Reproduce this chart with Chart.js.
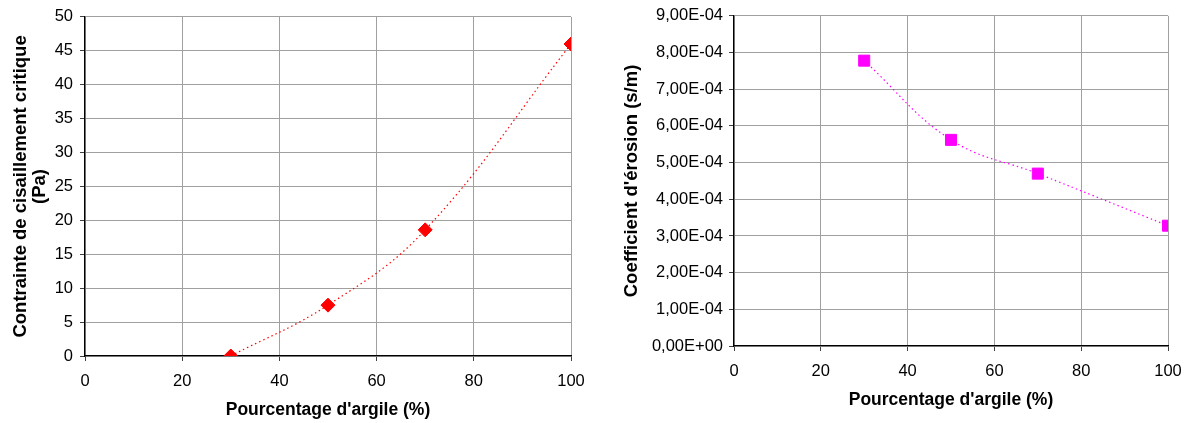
<!DOCTYPE html>
<html>
<head>
<meta charset="utf-8">
<script src="https://cdn.jsdelivr.net/npm/chart.js@4.4.0/dist/chart.umd.min.js"></script>
<style>
  body { margin: 0; background: #fff; }
  canvas { position: absolute; top: 0; }
  #shearChart { left: 0; }
  #erosionChart { left: 600px; }
</style>
</head>
<body>
<canvas id="shearChart" width="600" height="423"></canvas>
<canvas id="erosionChart" width="589" height="423"></canvas>
<script>
// Data
const clayPercent = [30, 50, 70, 100];
const criticalShear = [0, 7.5, 18.6, 46];
const erosionCoef = [7.78e-4, 5.62e-4, 4.70e-4, 3.28e-4];
const xTicks = [0, 20, 40, 60, 80, 100];
const shearTicks = [0, 5, 10, 15, 20, 25, 30, 35, 40, 45, 50];
const erosionTicks = [0, 1e-4, 2e-4, 3e-4, 4e-4, 5e-4, 6e-4, 7e-4, 8e-4, 9e-4];

const FONT = 'Arial, "Liberation Sans", sans-serif';
const GRID = '#a0a0a0';

// "7,00E-04" style labels
function excelSci(v) {
    const parts = v.toExponential(2).split('e');
    const e = parseInt(parts[1], 10);
    return parts[0].replace('.', ',') + 'E' + (e < 0 ? '-' : '+') + String(Math.abs(e)).padStart(2, '0');
}

function points(xs, ys) {
    return xs.map((x, i) => ({ x: x, y: ys[i] }));
}

function makeChart(canvasId, opts) {
    const ctx = document.getElementById(canvasId).getContext('2d');
    return new Chart(ctx, {
        type: 'scatter',
        data: {
            datasets: [{
                data: points(clayPercent, opts.values),
                showLine: true,
                tension: 0.4,
                borderColor: opts.color,
                borderWidth: 1.2,
                borderDash: [1.5, 3],
                pointStyle: opts.pointStyle,
                pointRadius: opts.pointRadius,
                pointBackgroundColor: opts.color,
                pointBorderColor: opts.color,
                pointBorderWidth: 1
            }]
        },
        options: {
            responsive: false,
            animation: false,
            layout: { padding: { top: opts.top, right: opts.right, left: 0, bottom: 0 } },
            plugins: { legend: { display: false }, tooltip: { enabled: false } },
            scales: {
                x: {
                    type: 'linear',
                    min: 0,
                    max: 100,
                    afterBuildTicks: axis => { axis.ticks = xTicks.map(v => ({ value: v })); },
                    afterFit: axis => {
                        axis.height = opts.xAxisHeight;
                        // keep the plot edge where the layout padding puts it
                        axis.paddingLeft = 0;
                        axis.paddingRight = 0;
                    },
                    grid: { color: GRID, lineWidth: 1, tickLength: 5, tickColor: '#404040' },
                    border: { color: '#000', width: 1.3 },
                    ticks: { color: '#000', font: { family: FONT, size: 16.5 }, padding: 11, maxRotation: 0 },
                    title: {
                        display: true,
                        text: "Pourcentage d'argile (%)",
                        color: '#000',
                        font: { family: FONT, size: 17.5, weight: 'bold' },
                        padding: { top: 0, bottom: opts.xTitlePad }
                    }
                },
                y: {
                    type: 'linear',
                    min: 0,
                    max: opts.yMax,
                    afterBuildTicks: axis => { axis.ticks = opts.yTicks.map(v => ({ value: v })); },
                    afterFit: axis => { axis.width = opts.yAxisWidth; },
                    grid: { color: GRID, lineWidth: 1, tickLength: 5, tickColor: '#404040' },
                    border: { color: '#000', width: 1.3 },
                    ticks: {
                        color: '#000',
                        font: { family: FONT, size: 16.5 },
                        padding: opts.yTickPad,
                        callback: opts.yFormat
                    },
                    title: {
                        display: true,
                        text: opts.yTitle,
                        color: '#000',
                        font: { family: FONT, size: 18.5, weight: 'bold', lineHeight: 1.05 },
                        padding: { top: opts.yTitlePad, bottom: 0 }
                    }
                }
            }
        }
    });
}

makeChart('shearChart', {
    values: criticalShear,
    color: '#ff0000',
    pointStyle: 'rectRot',
    pointRadius: 7,
    yMax: 50,
    yTicks: shearTicks,
    yFormat: v => String(v),
    yTitle: ['Contrainte de cisaillement critique', '(Pa)'],
    top: 15, right: 29,
    xAxisHeight: 67, yAxisWidth: 85,
    xTitlePad: 2.5, yTitlePad: 11, yTickPad: 7
});

makeChart('erosionChart', {
    values: erosionCoef,
    color: '#ff00ff',
    pointStyle: 'rect',
    pointRadius: 7.8,
    yMax: 9e-4,
    yTicks: erosionTicks,
    yFormat: v => excelSci(v),
    yTitle: "Coefficient d'érosion (s/m)",
    top: 14, right: 21,
    xAxisHeight: 77, yAxisWidth: 134,
    xTitlePad: 12.5, yTitlePad: 22, yTickPad: 6
});
</script>
</body>
</html>
